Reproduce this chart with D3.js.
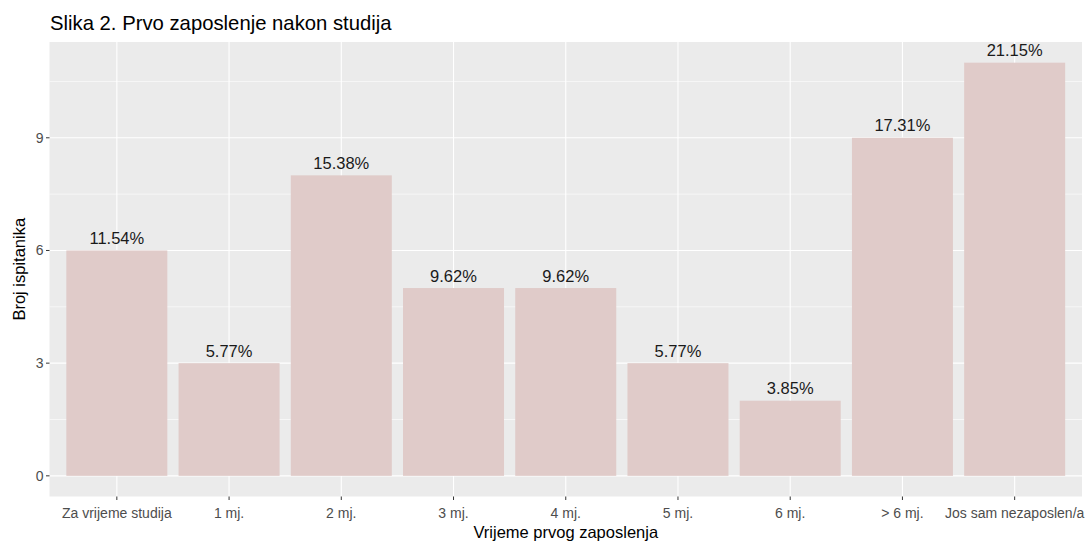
<!DOCTYPE html>
<html><head><meta charset="utf-8">
<script src="https://cdn.jsdelivr.net/npm/d3@7"></script>
<style>body{margin:0;background:#fff;} svg{display:block;font-family:"Liberation Sans",Arial,sans-serif;}</style>
</head><body>
<svg id="c" width="1086" height="541"></svg>
<script>
const categories = ["Za vrijeme studija","1 mj.","2 mj.","3 mj.","4 mj.","5 mj.","6 mj.","> 6 mj.","Jos sam nezaposlen/a"];
const counts = [6,3,8,5,5,3,2,9,11];
const percentLabels = ["11.54%","5.77%","15.38%","9.62%","9.62%","5.77%","3.85%","17.31%","21.15%"];
const yTicks = [0,3,6,9];
const yMinor = [1.5,4.5,7.5,10.5];
const title = "Slika 2. Prvo zaposlenje nakon studija";
const xTitle = "Vrijeme prvog zaposlenja";
const yTitle = "Broj ispitanika";

const svg = d3.select("#c");
const P = {l:49.5, r:1082, t:42, b:496.5};
const maxV = d3.max(counts);
const y = d3.scaleLinear().domain([-0.05*maxV, maxV*1.05]).range([P.b, P.t]);
// discrete scale with 0.6 expansion on each side
const x = d3.scalePoint().domain(categories)
  .range([P.l + (P.r-P.l)*0.6/(categories.length-1+1.2), P.r - (P.r-P.l)*0.6/(categories.length-1+1.2)]);
const step = x.step();

svg.append("rect").attr("x",P.l).attr("y",P.t).attr("width",P.r-P.l).attr("height",P.b-P.t).attr("fill","#ebebeb");
const g = svg.append("g");
g.selectAll(".mn").data(yMinor).join("line").attr("x1",P.l).attr("x2",P.r)
 .attr("y1",d=>y(d)).attr("y2",d=>y(d)).attr("stroke","#fff").attr("stroke-width",0.6);
g.selectAll(".mj").data(yTicks).join("line").attr("x1",P.l).attr("x2",P.r)
 .attr("y1",d=>y(d)).attr("y2",d=>y(d)).attr("stroke","#fff").attr("stroke-width",1.1);
g.selectAll(".vx").data(categories).join("line").attr("y1",P.t).attr("y2",P.b)
 .attr("x1",d=>x(d)).attr("x2",d=>x(d)).attr("stroke","#fff").attr("stroke-width",1.1);

const bw = step*0.9;
svg.selectAll(".bar").data(categories).join("rect")
 .attr("x",d=>x(d)-bw/2).attr("width",bw)
 .attr("y",(d,i)=>y(counts[i])).attr("height",(d,i)=>y(0)-y(counts[i]))
 .attr("fill","#e0cbc9");

svg.selectAll(".lbl").data(categories).join("text")
 .attr("x",d=>x(d)).attr("y",(d,i)=>y(counts[i])-6.5)
 .attr("text-anchor","middle").attr("font-size",16.5).attr("fill","#1a1a1a")
 .text((d,i)=>percentLabels[i]);

// y axis ticks
svg.selectAll(".yt").data(yTicks).join("line").attr("x1",P.l-3.5).attr("x2",P.l)
 .attr("y1",d=>y(d)).attr("y2",d=>y(d)).attr("stroke","#333").attr("stroke-width",1);
svg.selectAll(".ytl").data(yTicks).join("text").attr("x",P.l-6).attr("y",d=>y(d)+5)
 .attr("text-anchor","end").attr("font-size",14).attr("fill","#4d4d4d").text(d=>d);
// x ticks
svg.selectAll(".xt").data(categories).join("line").attr("y1",P.b).attr("y2",P.b+3.5)
 .attr("x1",d=>x(d)).attr("x2",d=>x(d)).attr("stroke","#333").attr("stroke-width",1);
svg.selectAll(".xtl").data(categories).join("text").attr("x",d=>x(d)).attr("y",518)
 .attr("text-anchor","middle").attr("font-size",14).attr("fill","#4d4d4d").text(d=>d);

svg.append("text").attr("x",P.l+0.5).attr("y",30).attr("font-size",20.3).attr("fill","#000").text(title);
svg.append("text").attr("x",(P.l+P.r)/2).attr("y",538).attr("text-anchor","middle").attr("font-size",16.5).attr("fill","#000").text(xTitle);
svg.append("text").attr("transform",`translate(25,${(P.t+P.b)/2}) rotate(-90)`).attr("text-anchor","middle").attr("font-size",16.5).attr("fill","#000").text(yTitle);
</script>
</body></html>
